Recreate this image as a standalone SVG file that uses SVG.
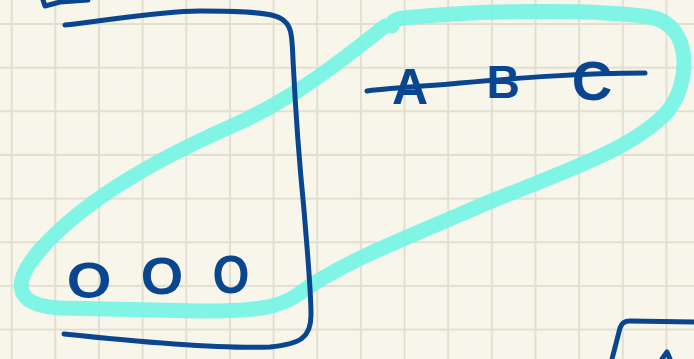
<svg xmlns="http://www.w3.org/2000/svg" width="694" height="359" viewBox="0 0 694 359">
<style>
.ink{fill:none;stroke:#0a4690;stroke-width:5;stroke-linecap:round;stroke-linejoin:round}
.hl{fill:none;stroke:#72f5e6;stroke-opacity:0.9;stroke-width:15;stroke-linecap:round;stroke-linejoin:round}
.lt{font-family:"Liberation Sans",Arial,sans-serif;font-weight:bold;fill:#0a4690;text-anchor:middle}
</style>
<defs>
<pattern id="grid" x="10.7" y="23" width="43.65" height="43.65" patternUnits="userSpaceOnUse">
<rect x="0" y="0" width="2" height="43.65" fill="#e2dfd1"/>
<rect x="0" y="0" width="43.65" height="2" fill="#e2dfd1"/>
</pattern>
</defs>
<rect width="694" height="359" fill="#f8f6ea"/>
<rect width="694" height="359" fill="url(#grid)"/>
<g id="highlight">
<path class="hl" d="M 392,26 Q 392,19 404,18 C 470,11 590,8 650,17 C 692,24 692,82 667,112 C 632,150 562,172 482,205 C 402,240 342,262 300,293 C 280,309 250,311 200,311 L 60,308 C 10,305 14,280 40,250 C 82,202 150,162 232,126 C 290,100 330,70 385,26"/>
</g>
<g id="box">
<path class="ink" d="M 65,25 C 110,20 160,11 200,11 C 240,11 270,12 280,18 C 292,24 292,35 293,60 C 296,120 300,170 304,210 C 308,260 311,290 311,315 C 311,338 300,344 270,347 C 220,349 140,342 64,334"/>
</g>
<g id="abc">
<path class="ink" d="M 367,91 C 400,87 430,86 460,83 C 520,78 580,73 645,73"/>
<text class="lt" x="410" y="104" font-size="50">A</text>
<text class="lt" x="503" y="98" font-size="46">B</text>
<text class="lt" x="592" y="100" font-size="56">C</text>
</g>
<g id="circles">
<text class="lt" x="89" y="298" font-size="50" transform="translate(89 0) scale(1.15 1) translate(-89 0)">O</text>
<text class="lt" x="162" y="294" font-size="52" transform="translate(162 0) scale(1.05 1) translate(-162 0)">O</text>
<text class="lt" x="231" y="293" font-size="54" transform="translate(231 0) scale(0.88 1) translate(-231 0)">O</text>
</g>
<g id="fragments">
<path class="ink" d="M 43,0 L 45,6 L 60,2 L 88,0"/>
<path class="ink" d="M 612,359 L 620,328 Q 622,321 630,321 L 694,322"/>
<path class="ink" d="M 662,359 L 667,352 L 670,359"/>
</g>
</svg>
